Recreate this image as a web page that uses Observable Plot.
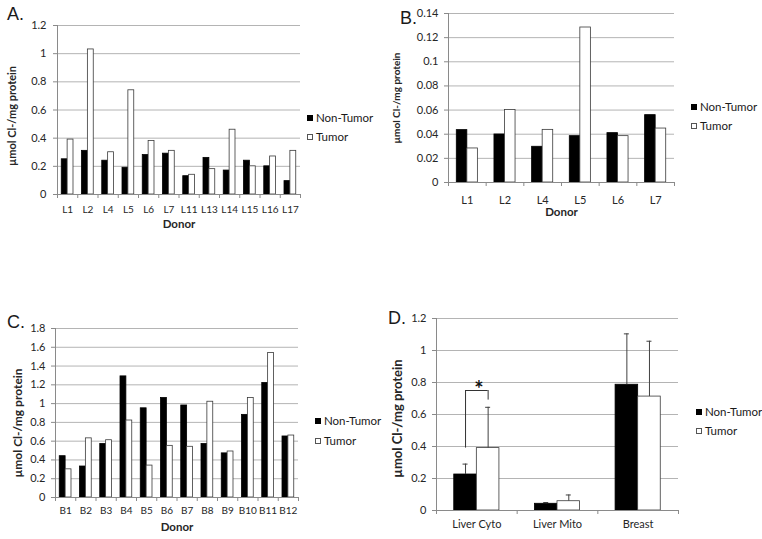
<!DOCTYPE html>
<html>
<head>
<meta charset="utf-8">
<script src="https://cdn.jsdelivr.net/npm/d3@7"></script>
<script src="https://cdn.jsdelivr.net/npm/@observablehq/plot@0.6"></script>
<style>
  html, body { margin: 0; padding: 0; background: #fff; }
  #fig { position: relative; width: 762px; height: 539px; background: #fff; overflow: hidden; font-family: Lato, "Liberation Sans", sans-serif; color: #1a1a1a; }
  .panel { position: absolute; }
  .letter { position: absolute; font-size: 18px; line-height: 1; font-family: "Liberation Sans", Arial, sans-serif; }
  .legend { position: absolute; font-size: 11.5px; line-height: 1; }
  .legend .item { position: absolute; left: 0; white-space: nowrap; display: flex; align-items: center; }
  .legend .sw { display: inline-block; width: 6px; height: 6px; margin-right: 3px; box-sizing: border-box; }
</style>
</head>
<body>
<div id="fig"></div>
<script>
// ---------- data ----------
const panelALabels = ["L1","L2","L4","L5","L6","L7","L11","L13","L14","L15","L16","L17"];
const panelANonTumor = [0.25,0.31,0.24,0.19,0.28,0.29,0.13,0.26,0.17,0.24,0.20,0.095];
const panelATumor    = [0.39,1.03,0.30,0.74,0.38,0.31,0.14,0.18,0.46,0.20,0.27,0.31];
const panelATicks = [0,0.2,0.4,0.6,0.8,1,1.2];

const panelBLabels = ["L1","L2","L4","L5","L6","L7"];
const panelBNonTumor = [0.0434,0.0398,0.0296,0.0384,0.0409,0.0558];
const panelBTumor    = [0.0282,0.0600,0.0436,0.1284,0.0384,0.0447];
const panelBTicks = [0,0.02,0.04,0.06,0.08,0.1,0.12,0.14];

const panelCLabels = ["B1","B2","B3","B4","B5","B6","B7","B8","B9","B10","B11","B12"];
const panelCNonTumor = [0.44,0.33,0.57,1.29,0.95,1.06,0.98,0.57,0.47,0.88,1.22,0.65];
const panelCTumor    = [0.30,0.63,0.61,0.82,0.34,0.55,0.54,1.02,0.49,1.06,1.54,0.66];
const panelCTicks = [0,0.2,0.4,0.6,0.8,1,1.2,1.4,1.6,1.8];

const panelDLabels = ["Liver Cyto","Liver Mito","Breast"];
const panelDNonTumor    = [0.225,0.042,0.786];
const panelDNonTumorErr = [0.065,0.008,0.318];
const panelDTumor       = [0.39,0.058,0.712];
const panelDTumorErr    = [0.255,0.039,0.346];
const panelDTicks = [0,0.2,0.4,0.6,0.8,1,1.2];
// significance bracket (Liver Cyto): left leg bottom, top, right leg bottom
const sigCategory = "Liver Cyto";
const sigLeft = 0.39, sigTop = 0.75, sigRight = 0.69;
const sigMark = "*";

const seriesNames = ["Non-Tumor","Tumor"];
const yTitle = "µmol Cl-/mg protein";
const xTitle = "Donor";

// ---------- drawing ----------
const GRID = "#b4b4b4", AXIS = "#8a8a8a", TXT = "#262626";

function panel(o) {
  const {labels, nt, t, ntErr, tErr, ticks, width, height, m, barFrac} = o;
  const rows = labels.map((c, i) => ({c, nt: nt[i], t: t[i], ne: ntErr ? ntErr[i] : 0, te: tErr ? tErr[i] : 0}));
  const pw = width - m.left - m.right;
  const bw = pw / labels.length;
  const w = bw * barFrac;
  const ymax = ticks[ticks.length - 1];
  const marks = [
    Plot.gridY(ticks, {stroke: GRID, strokeOpacity: 1}),
    Plot.barY(rows, {x: "c", y: "nt", fill: "#000", stroke: "#000", strokeWidth: 0.8, insetLeft: bw/2 - w, insetRight: bw/2}),
    Plot.barY(rows, {x: "c", y: "t", fill: "#fff", stroke: "#3a3a3a", strokeWidth: 0.8, insetLeft: bw/2, insetRight: bw/2 - w}),
    Plot.ruleY([0], {stroke: AXIS}),
    Plot.ruleX(labels.slice(0, 1), {x: d => d, dx: -bw/2, y1: 0, y2: ymax, stroke: AXIS}),
    Plot.ruleX(labels, {x: d => d, dx: bw/2, y1: 0, y2: 0, insetBottom: -4, stroke: AXIS}),
    Plot.ruleX(labels.slice(0, 1), {x: d => d, dx: -bw/2, y1: 0, y2: 0, insetBottom: -4, stroke: AXIS}),
    Plot.axisY(ticks, {tickSize: 4, tickPadding: o.yTickPad, tickFormat: d3.format("~g"), stroke: AXIS, fill: TXT, fontSize: 11, label: null}),
    Plot.axisX({tickSize: 0, tickPadding: o.xTickPad, fill: TXT, fontSize: o.tickSize ?? 11, label: null}),
    Plot.text([yTitle], {text: d => d, frameAnchor: "left", rotate: -90, textAnchor: "middle", lineAnchor: "middle",
      dx: o.yLabDx, dy: o.yLabDy, fontWeight: "bold", fontSize: o.yLabSize, fill: TXT})
  ];
  if (o.xLabel) marks.push(Plot.text([o.xLabel], {text: d => d, frameAnchor: "bottom", lineAnchor: "middle", dy: o.xLabDy, fontWeight: "bold", fontSize: 11.5, fill: TXT}));
  if (ntErr) {
    marks.push(
      Plot.ruleX(rows, {x: "c", y1: "nt", y2: d => d.nt + d.ne, dx: -w/2, stroke: "#404040"}),
      Plot.ruleX(rows, {x: "c", y1: "t", y2: d => d.t + d.te, dx: w/2, stroke: "#404040"}),
      Plot.tickY(rows, {x: "c", y: d => d.nt + d.ne, insetLeft: bw/2 - w/2 - 2.5, insetRight: bw/2 + w/2 - 2.5, stroke: "#404040"}),
      Plot.tickY(rows, {x: "c", y: d => d.t + d.te, insetLeft: bw/2 + w/2 - 2.5, insetRight: bw/2 - w/2 - 2.5, stroke: "#404040"})
    );
  }
  if (o.sig) {
    const s = [o.sig];
    marks.push(
      Plot.ruleX(s, {x: "c", y1: "lo", y2: "top", dx: -w/2, stroke: "#333"}),
      Plot.ruleX(s, {x: "c", y1: "ro", y2: "top", dx: w/2, stroke: "#333"}),
      Plot.ruleY(s, {x1: "c", x2: "c", y: "top", insetLeft: bw/2 - w/2, insetRight: bw/2 - w/2, stroke: "#333"}),
      Plot.text(s, {x: "c", y: "top", text: "mark", fontSize: 22, fontWeight: "bold", lineAnchor: "middle", dy: -1, dx: 2, fill: "#111"})
    );
  }
  return Plot.plot({
    width, height,
    marginLeft: m.left, marginRight: m.right, marginTop: m.top, marginBottom: m.bottom,
    x: {domain: labels, padding: 0, round: false, axis: null, label: null},
    y: {domain: [0, ymax], axis: null, label: null},
    style: {fontFamily: "Lato, 'Liberation Sans', sans-serif", background: "transparent", overflow: "visible", color: TXT},
    marks
  });
}

const fig = document.getElementById("fig");
function place(node, left, top) {
  const d = document.createElement("div");
  d.className = "panel"; d.style.left = left + "px"; d.style.top = top + "px";
  d.appendChild(node); fig.appendChild(d);
}
function letter(txt, left, top) {
  const d = document.createElement("div");
  d.className = "letter"; d.textContent = txt; d.style.left = left + "px"; d.style.top = top + "px";
  fig.appendChild(d);
}
function legend(left, top, gap) {
  const d = document.createElement("div");
  d.className = "legend"; d.style.left = left + "px"; d.style.top = top + "px";
  seriesNames.forEach((name, i) => {
    const it = document.createElement("div");
    it.className = "item"; it.style.top = (i * gap) + "px";
    const sw = document.createElement("span");
    sw.className = "sw";
    sw.style.background = i === 0 ? "#000" : "#fff";
    sw.style.border = i === 0 ? "1px solid #000" : "1px solid #555";
    it.appendChild(sw);
    const tx = document.createElement("span"); tx.textContent = name;
    it.appendChild(tx);
    d.appendChild(it);
  });
  fig.appendChild(d);
}

place(panel({labels: panelALabels, nt: panelANonTumor, t: panelATumor, ticks: panelATicks,
  width: 381, height: 240, m: {left: 57, right: 81, top: 25, bottom: 46}, barFrac: 0.29,
  yTickPad: 7, xTickPad: 11, yLabDx: -45, yLabDy: 6, yLabSize: 11, xLabel: xTitle, xLabDy: 30, tickSize: 10}), 0, 0);

place(panel({labels: panelBLabels, nt: panelBNonTumor, t: panelBTumor, ticks: panelBTicks,
  width: 381, height: 240, m: {left: 67, right: 88, top: 13, bottom: 58}, barFrac: 0.28,
  yTickPad: 6, xTickPad: 14, yLabDx: -52, yLabDy: 0, yLabSize: 10, xLabel: xTitle, xLabDy: 30}), 381, 0);

place(panel({labels: panelCLabels, nt: panelCNonTumor, t: panelCTumor, ticks: panelCTicks,
  width: 381, height: 259, m: {left: 55, right: 83, top: 48, bottom: 42}, barFrac: 0.29,
  yTickPad: 6, xTickPad: 9, yLabDx: -37, yLabDy: 10, yLabSize: 12, xLabel: xTitle, xLabDy: 30, tickSize: 10}), 0, 280);

place(panel({labels: panelDLabels, nt: panelDNonTumor, t: panelDTumor, ntErr: panelDNonTumorErr, tErr: panelDTumorErr,
  ticks: panelDTicks, width: 381, height: 259, m: {left: 55, right: 84, top: 38, bottom: 29}, barFrac: 0.28,
  yTickPad: 6, xTickPad: 10, yLabDx: -39, yLabDy: 4, yLabSize: 13,
  sig: {c: sigCategory, lo: sigLeft, top: sigTop, ro: sigRight, mark: sigMark}}), 381, 280);

letter("A.", 7, 5);
letter("B.", 400, 9);
letter("C.", 7, 313);
letter("D.", 388, 309);

legend(307, 112, 19);
legend(691, 101, 19);
legend(315, 415, 20);
legend(696, 406, 19);
</script>
</body>
</html>
